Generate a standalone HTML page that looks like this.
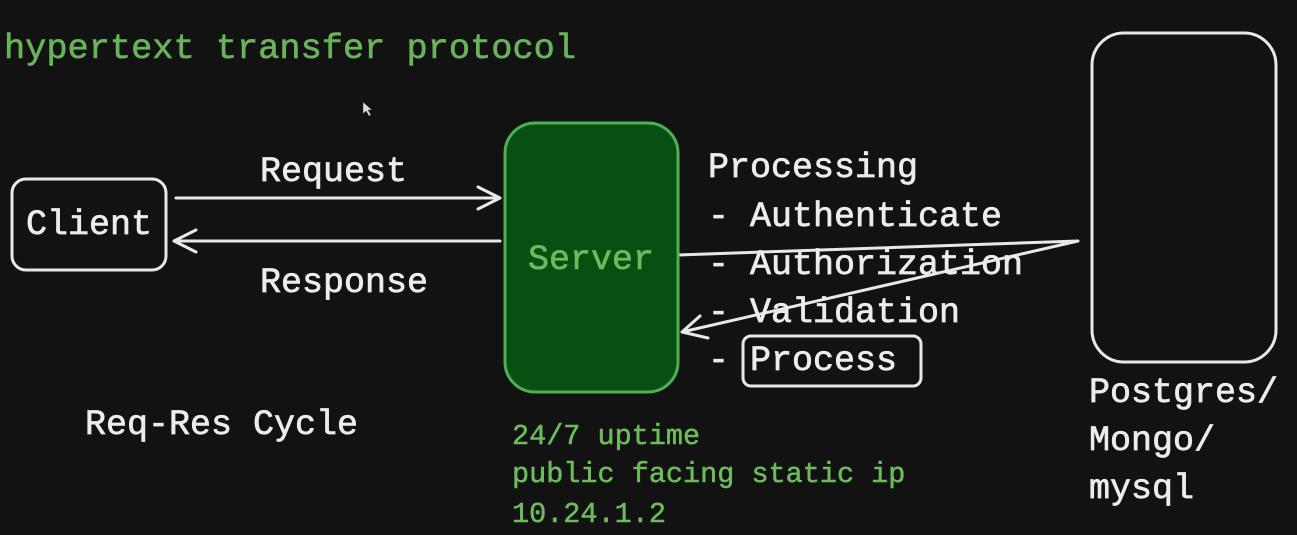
<!DOCTYPE html>
<html><head><style>
html,body{margin:0;padding:0;background:#121212;}
svg{display:block}
text{font-family:"Liberation Mono",monospace;}
</style></head><body>
<svg width="1297" height="535" viewBox="0 0 1297 535">
<rect width="1297" height="535" fill="#121212"/>
<g font-size="35" fill="#69b35a" stroke="#69b35a" stroke-width="0.6">
<text x="4" y="58" textLength="572" lengthAdjust="spacingAndGlyphs">hypertext transfer protocol</text>
</g>
<g fill="none" stroke="#e8e8e8" stroke-width="3" stroke-linecap="round" stroke-linejoin="round">
<rect x="12" y="179" width="154" height="91" rx="14"/>
<rect x="1092" y="33" width="184" height="329" rx="32"/>
<rect x="743" y="336" width="178" height="50" rx="8"/>
<path d="M176 198 L500 198 M478 187 L500 198 L478 209"/>
<path d="M500 241 L174 241 M196 230 L174 241 L196 252"/>
<path d="M678 255 L1078 241 L682 332 M700 316 L682 332 L708 338"/>
</g>
<rect x="505" y="123" width="173" height="269" rx="30" fill="#085012" stroke="#4eaf54" stroke-width="3"/>
<g font-size="35" fill="#ececec" stroke="#ececec" stroke-width="0.7">
<text x="260" y="181">Request</text>
<text x="26" y="234">Client</text>
<text x="260" y="292">Response</text>
<text x="85" y="434">Req-Res Cycle</text>
<text x="708" y="177">Processing</text>
<text x="708" y="226">- Authenticate</text>
<text x="708" y="274">- Authorization</text>
<text x="708" y="322">- Validation</text>
<text x="708" y="370">- Process</text>
<text x="1089" y="402">Postgres/</text>
<text x="1089" y="450">Mongo/</text>
<text x="1089" y="498">mysql</text>
</g>
<text x="528" y="269" font-size="35" fill="#6dbb5d" stroke="#6dbb5d" stroke-width="0.6">Server</text>
<g font-size="28.5" fill="#6dbb5d" stroke="#6dbb5d" stroke-width="0.5">
<text x="512" y="444">24/7 uptime</text>
<text x="512" y="482">public facing static ip</text>
<text x="512" y="522">10.24.1.2</text>
</g>
<path d="M363 102 L363 114 L366 111 L369 116 L371 115 L368 110 L372 110 Z" fill="#ddd" stroke="#333" stroke-width="0.5"/>
</svg>
</body></html>
